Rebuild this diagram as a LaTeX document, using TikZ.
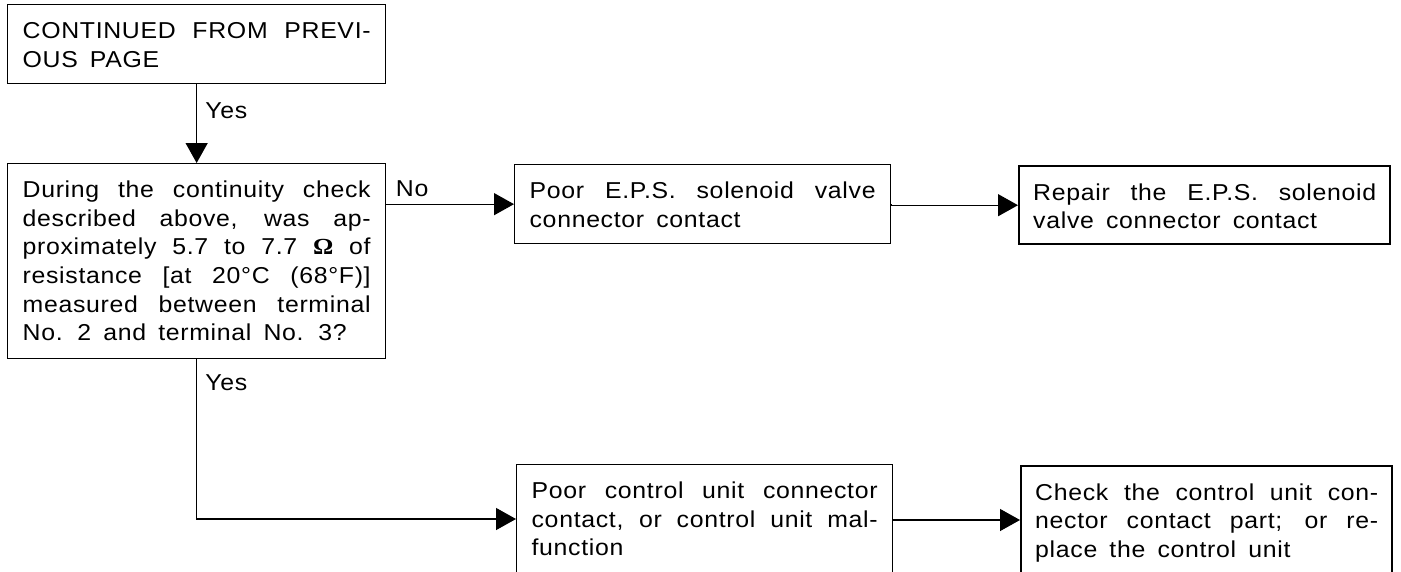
\documentclass[tikz,border=0pt]{standalone}
\usepackage{fontspec}
\setmainfont{Liberation Sans}[FakeStretch=1.08, LetterSpace=3, WordSpace=1.6]
\newfontfamily\ohmfont{Liberation Serif}[FakeStretch=1.1]
\usetikzlibrary{arrows.meta,calc}

% width of the current justified text block
\newlength\blockw
% one fully justified line
\newcommand\jline[1]{\makebox[\blockw][s]{#1}\\}
% text size used throughout
\newcommand\chartsize{\fontsize{23}{28.6}\selectfont}
% text block of a box: width, height, lines; first baseline 34pt below the top
\newcommand\boxtext[3]{%
  \parbox[t][#2][t]{#1}{\setlength\blockw{#1}%
    \chartsize\rule{0pt}{34pt}#3}}
% bold ohm sign
\newcommand\ohm{{\ohmfont\bfseries Ω}}

\tikzset{
  stepbox/.style={draw, line width=1.3pt, rectangle, anchor=north west,
    inner ysep=0pt, inner xsep=15pt},
  endbox/.style={stepbox, line width=2.4pt},
  flow/.style={line width=1.3pt, -{Triangle[length=20pt,width=22pt]}},
  lbl/.style={anchor=base west, inner sep=0pt, font=\chartsize},
}

\begin{document}
\begin{tikzpicture}[x=1pt, y=-1pt]
\useasboundingbox (0,0) rectangle (1401,571);
\clip (0,0) rectangle (1401,571);

% left column
\node[stepbox] (start) at (7,4) {\boxtext{348pt}{79pt}{%
  \jline{CONTINUED FROM PREVI-}OUS PAGE}};
\node[stepbox] (check) at (7,163) {\boxtext{348pt}{195pt}{%
  \jline{During the continuity check}%
  \jline{described above, was ap-}%
  \jline{proximately 5.7 to 7.7 \ohm{} of}%
  \jline{resistance [at 20°C (68°F)]}%
  \jline{measured between terminal}%
  No. 2 and terminal No. 3?}};

% middle column
\node[stepbox] (poorsol) at (514,164) {\boxtext{346pt}{79pt}{%
  \jline{Poor E.P.S. solenoid valve}%
  connector contact}};
\node[stepbox] (poorcu) at (516,464) {\boxtext{346pt}{150pt}{%
  \jline{Poor control unit connector}%
  \jline{contact, or control unit mal-}%
  function}};

% right column
\node[endbox, inner xsep=14pt] (repair) at (1018,165) {\boxtext{343pt}{78pt}{%
  \jline{Repair the E.P.S. solenoid}%
  valve connector contact}};
\node[endbox, inner xsep=14pt] (replace) at (1020,465) {\boxtext{343pt}{150pt}{%
  \jline{Check the control unit con-}%
  \jline{nector contact part; or re-}%
  place the control unit}};

% junction where the lower branch meets the middle column
\coordinate (cujoin) at ($(poorcu.north west)+(0,55)$);

% connectors
\draw[flow] (start.south) -- node[lbl, pos=0.44, xshift=8pt]{Yes} (check.north);
\draw[flow] (poorsol.west -| check.east)
  node[lbl, xshift=9pt, yshift=8pt]{No} -- (poorsol.west);
\draw[flow] (poorsol.east) -- (repair.west -| poorsol.east) -- (repair.west);
\draw[flow] (check.south) node[lbl, xshift=8pt, yshift=-31pt]{Yes}
  -- (check.south |- cujoin) -- (cujoin);
\draw[flow] (poorcu.east |- 0,520) -- (replace.west |- 0,520);
\end{tikzpicture}
\end{document}
